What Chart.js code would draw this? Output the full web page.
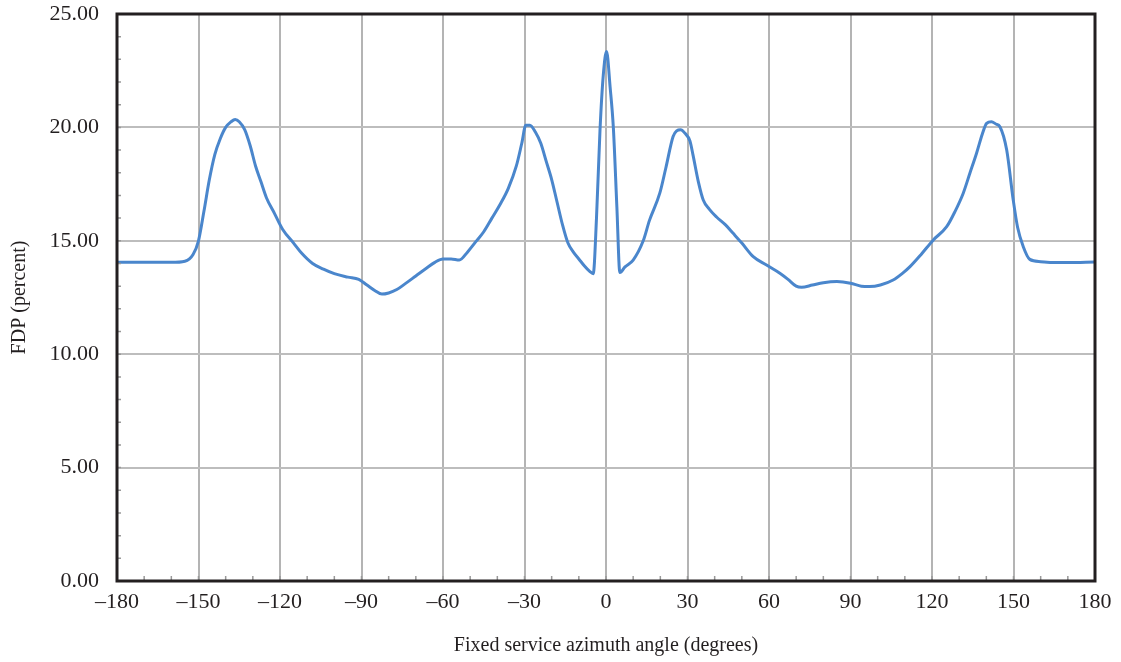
<!DOCTYPE html>
<html>
<head>
<meta charset="utf-8">
<script src="https://cdn.jsdelivr.net/npm/chart.js@4/dist/chart.umd.min.js"></script>
<style>
  html, body { margin: 0; padding: 0; background: #fff; }
  #wrap { width: 1121px; height: 662px; }
</style>
</head>
<body>
<div id="wrap"><canvas id="fdpChart"></canvas></div>
<script>
// azimuth angles (degrees) and FDP values (percent)
const angles = [
  -180, -170, -160, -155, -152, -150, -148, -146, -144, -142, -140, -138, -136.5, -135, -133, -131,
  -129, -127, -125, -122, -119, -115, -112, -108, -104, -100, -95, -91, -88, -85, -82.5, -80,
  -77, -74, -70, -66, -63, -60, -57, -54, -51, -48, -45, -42, -39, -36, -33, -31,
  -29.5, -28, -26, -24, -22, -20, -18, -16, -14, -12, -10, -8, -6, -4.7, -3.5, -2.2,
  -1, 0.2, 1.5, 2.7, 4, 5.1, 7, 10, 13.7, 16, 19.8, 22, 24.7, 26, 27.5, 29,
  30.9, 32, 34, 35.8, 38, 40.7, 44, 46.8, 50, 54.2, 59.1, 64, 67, 70, 72, 76,
  80, 85, 90, 94, 97, 101, 105.7, 109, 111.9, 116, 120.5, 125.4, 128.5, 131.5, 134, 136.4,
  138.5, 140.1, 141.9, 143.5, 145, 147.5, 149.9, 151.5, 153.6, 156, 160, 165, 170, 180
];
const fdp = [
  14.05, 14.05, 14.05, 14.1, 14.4, 15.0, 16.3, 17.7, 18.8, 19.5, 20.0, 20.25, 20.35, 20.25, 19.9, 19.2,
  18.3, 17.6, 16.9, 16.2, 15.5, 14.9, 14.45, 14.0, 13.75, 13.55, 13.4, 13.3, 13.05, 12.8, 12.65, 12.7,
  12.85, 13.1, 13.45, 13.8, 14.05, 14.2, 14.2, 14.15, 14.5, 14.95, 15.4, 16.0, 16.6, 17.3, 18.3, 19.3,
  20.1, 20.1, 19.8, 19.3, 18.5, 17.7, 16.7, 15.7, 14.9, 14.5, 14.2, 13.9, 13.65, 13.55, 16.0, 19.9,
  22.3, 23.35, 21.8, 20.0, 16.5, 13.6, 13.85, 14.15, 15.0, 15.9, 17.1, 18.2, 19.6, 19.85, 19.9, 19.75,
  19.4, 18.8, 17.6, 16.8, 16.4, 16.05, 15.7, 15.33, 14.9, 14.3, 13.93, 13.57, 13.3, 13.0, 12.95, 13.05,
  13.15, 13.2, 13.13, 13.0, 12.98, 13.05, 13.27, 13.55, 13.86, 14.4, 15.04, 15.62, 16.3, 17.1, 18.0, 18.86,
  19.7, 20.18, 20.25, 20.15, 20.03, 19.0, 16.8, 15.6, 14.74, 14.18, 14.08, 14.04, 14.04, 14.07
];
const xTickStep = 30;
const yTickStep = 5;
const xMinorStep = 10;
const yMinorStep = 1;

const serif = '"Liberation Serif", "DejaVu Serif", serif';

// frame round the plot area and small inward minor ticks
const framePlugin = {
  id: 'frame',
  afterDraw(chart) {
    const { ctx, chartArea: a, scales } = chart;
    ctx.save();
    ctx.strokeStyle = '#999';
    ctx.lineWidth = 1.5;
    ctx.beginPath();
    for (let v = -180; v <= 180; v += xMinorStep) {
      const px = scales.x.getPixelForValue(v);
      ctx.moveTo(px, a.bottom);
      ctx.lineTo(px, a.bottom - 5);
    }
    for (let v = 0; v <= 25; v += yMinorStep) {
      const py = scales.y.getPixelForValue(v);
      ctx.moveTo(a.left, py);
      ctx.lineTo(a.left + 4, py);
    }
    ctx.stroke();
    ctx.strokeStyle = '#231f20';
    ctx.lineWidth = 3;
    ctx.strokeRect(a.left, a.top, a.right - a.left, a.bottom - a.top);
    ctx.restore();
  }
};

const points = angles.map((a, i) => ({ x: a, y: fdp[i] }));

new Chart(document.getElementById('fdpChart'), {
  type: 'line',
  data: {
    datasets: [{
      label: 'FDP',
      data: points,
      borderColor: 'rgb(74, 134, 204)',
      borderWidth: 3,
      pointRadius: 0,
      cubicInterpolationMode: 'monotone',
      fill: false
    }]
  },
  options: {
    responsive: true,
    maintainAspectRatio: false,
    animation: false,
    layout: { padding: { top: 14, right: 26, left: 0, bottom: 0 } },
    plugins: {
      legend: { display: false },
      tooltip: { enabled: false }
    },
    scales: {
      x: {
        type: 'linear',
        min: -180,
        max: 180,
        afterFit: (scale) => {
          scale.height = 81;
          scale.paddingLeft = 0;
          scale.paddingRight = 0;
        },
        ticks: {
          stepSize: xTickStep,
          padding: 8,
          color: '#231f20',
          font: { family: serif, size: 22 },
          maxRotation: 0,
          callback: (v) => (v < 0 ? '\u2013' + Math.abs(v) : String(v))
        },
        grid: {
          color: '#b4b4b4',
          lineWidth: 2,
          drawTicks: false
        },
        border: { display: false },
        title: {
          display: true,
          text: 'Fixed service azimuth angle (degrees)',
          color: '#231f20',
          font: { family: serif, size: 20 },
          padding: { top: 8 }
        }
      },
      y: {
        min: 0,
        max: 25,
        afterFit: (scale) => {
          scale.width = 117;
          scale.paddingTop = 0;
          scale.paddingBottom = 0;
        },
        ticks: {
          stepSize: yTickStep,
          padding: 18,
          color: '#231f20',
          font: { family: serif, size: 22 },
          callback: (v) => v.toFixed(2)
        },
        grid: {
          color: '#bdbdbd',
          lineWidth: 2,
          drawTicks: false
        },
        border: { display: false },
        title: {
          display: true,
          text: 'FDP (percent)',
          color: '#231f20',
          font: { family: serif, size: 20 },
          padding: { top: 8, bottom: 0 }
        }
      }
    }
  },
  plugins: [framePlugin]
});
</script>
</body>
</html>
